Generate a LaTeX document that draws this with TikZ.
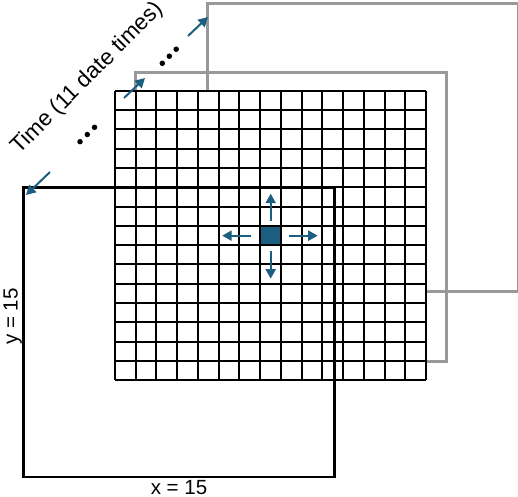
\documentclass[tikz,border=0pt]{standalone}
\usepackage{fontspec}
\setmainfont{Liberation Sans}
\usetikzlibrary{arrows.meta,calc}
\definecolor{teal1}{RGB}{27,94,127}
\definecolor{framegray}{RGB}{153,153,153}
\begin{document}
\begin{tikzpicture}[x=1pt,y=-1pt,
  back/.style={draw=framegray,line width=2.8pt,inner sep=0pt,minimum width=311pt,anchor=north west},
  front/.style={draw=black,line width=2.8pt,inner sep=0pt,minimum width=311pt,minimum height=289.5pt,anchor=north west},
  gridline/.style={black,line width=2pt},
  flow/.style={draw=teal1,line width=2pt,-{Triangle[length=9.5pt,width=10pt]}},
  dot/.style={circle,fill=black,inner sep=0pt,minimum size=5.5pt},
  lab/.style={font=\fontsize{20.5}{23}\selectfont,inner sep=0pt}]
\useasboundingbox (0,0) rectangle (518,496);
% back frames
\node[back,minimum height=288pt] (t2) at (206,2) {};
\node[back,minimum height=289pt] (t1) at (134,71) {};
% grid
\node[fill=white,inner sep=0pt,minimum width=311pt,minimum height=289.5pt,anchor=north west] (grid) at (115,90.7) {};
\node[fill=teal1,inner sep=0pt,minimum width=20.73pt,minimum height=19.3pt,anchor=north west] (cell) at (260.13,225.8) {};
\foreach \i in {0,...,15} {
  \draw[gridline] (115+\i*20.733,90.7) -- (115+\i*20.733,380.2);
  \draw[gridline] (115,90.7+\i*19.3) -- (426,90.7+\i*19.3);
}
% front frame
\node[front] (t0) at (22,186) {};
% cell arrows
\coordinate (us) at ($(cell.center)+(0,-15)$);
\coordinate (ue) at ($(cell.center)+(0,-42)$);
\coordinate (ds) at ($(cell.center)+(0,15)$);
\coordinate (de) at ($(cell.center)+(0,43)$);
\coordinate (ls) at ($(cell.center)+(-20,0)$);
\coordinate (le) at ($(cell.center)+(-48.5,0)$);
\coordinate (rs) at ($(cell.center)+(18,0)$);
\coordinate (re) at ($(cell.center)+(47,0)$);
\draw[flow] (us) -- (ue);
\draw[flow] (ds) -- (de);
\draw[flow] (ls) -- (le);
\draw[flow] (rs) -- (re);
% time arrows
\coordinate (a1s) at (50,172);
\coordinate (a1e) at (26,195);
\coordinate (a2s) at (124,98);
\coordinate (a2e) at (145,78);
\coordinate (a3s) at (188,36);
\coordinate (a3e) at (208,17);
\draw[flow] (a1s) -- (a1e);
\draw[flow] (a2s) -- (a2e);
\draw[flow] (a3s) -- (a3e);
% dots
\node[dot] (d1) at (80,141.7) {};
\node[dot] (d2) at (87.3,134.5) {};
\node[dot] (d3) at (94.5,127.3) {};
\node[dot] (d4) at (162.3,63.3) {};
\node[dot] (d5) at (169.3,56.2) {};
\node[dot] (d6) at (176.2,49.2) {};
% labels
\node[lab,font=\fontsize{22.5}{25}\selectfont,rotate=45] (time) at (87.5,78.5) {Time (11 date times)};
\node[lab,anchor=base] (xl) at (179,494.5) {x = 15};
\node[lab,anchor=base,rotate=90] (yl) at (17.5,316.5) {y = 15};
\end{tikzpicture}
\end{document}
